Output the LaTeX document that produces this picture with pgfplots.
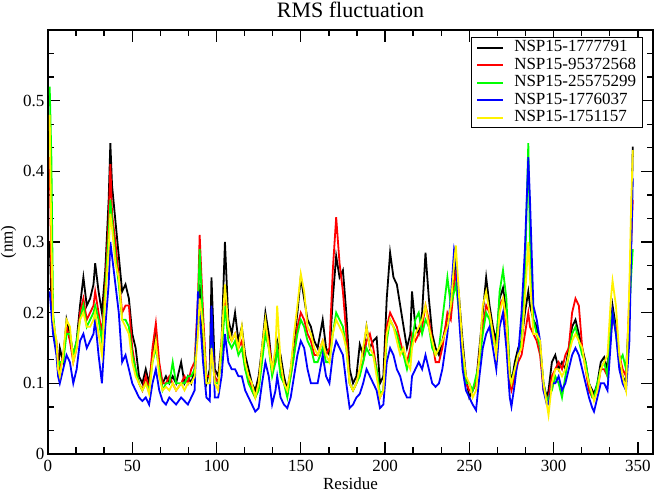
\documentclass[border=0pt]{standalone}
\usepackage{fontspec}
\setmainfont{Liberation Serif}
\usepackage{pgfplots}
\usepackage{pgfplotstable}
\pgfplotsset{compat=1.18}

% RMSF per residue (nm)
% B = 1777791, R = 95372568, G = 25575299, U = 1776037, Y = 1751157
\pgfplotstableread{
r   B     R     G     U     Y
1   0.30  0.42  0.52  0.23  0.48
2   0.22  0.25  0.42  0.20  0.30
3   0.19  0.18  0.20  0.17  0.19
5   0.15  0.16  0.15  0.14  0.16
6   0.12  0.13  0.12  0.11  0.12
7   0.15  0.12  0.13  0.10  0.11
9   0.13  0.14  0.13  0.12  0.14
11  0.19  0.18  0.17  0.14  0.19
13  0.17  0.16  0.17  0.13  0.18
15  0.14  0.13  0.14  0.10  0.13
17  0.16  0.15  0.16  0.12  0.15
19  0.21  0.20  0.19  0.16  0.19
21  0.25  0.22  0.21  0.17  0.20
23  0.21  0.19  0.18  0.15  0.18
25  0.22  0.20  0.19  0.16  0.18
27  0.24  0.21  0.20  0.17  0.19
28  0.27  0.23  0.21  0.19  0.20
30  0.23  0.20  0.19  0.14  0.17
32  0.20  0.17  0.16  0.10  0.14
34  0.26  0.24  0.23  0.18  0.22
36  0.36  0.33  0.31  0.24  0.29
37  0.44  0.41  0.36  0.30  0.34
38  0.38  0.34  0.33  0.28  0.32
40  0.33  0.30  0.28  0.24  0.27
42  0.28  0.25  0.24  0.20  0.25
44  0.23  0.20  0.19  0.13  0.19
46  0.24  0.21  0.19  0.14  0.18
48  0.22  0.21  0.18  0.12  0.17
50  0.17  0.15  0.14  0.10  0.13
52  0.15  0.12  0.12  0.09  0.11
54  0.11  0.10  0.10  0.08  0.10
56  0.10  0.09  0.09  0.075 0.09
58  0.12  0.11  0.10  0.08  0.10
60  0.10  0.09  0.09  0.07  0.085
62  0.14  0.15  0.13  0.10  0.13
64  0.17  0.185 0.15  0.12  0.16
66  0.12  0.13  0.12  0.09  0.11
68  0.10  0.10  0.09  0.075 0.09
70  0.11  0.10  0.10  0.07  0.095
72  0.10  0.11  0.10  0.08  0.09
74  0.11  0.10  0.13  0.075 0.10
76  0.10  0.09  0.10  0.07  0.09
79  0.13  0.10  0.10  0.08  0.10
81  0.10  0.11  0.10  0.075 0.09
83  0.11  0.10  0.11  0.07  0.10
85  0.10  0.12  0.11  0.08  0.10
87  0.12  0.13  0.12  0.09  0.11
89  0.18  0.22  0.20  0.23  0.17
90  0.24  0.31  0.29  0.20  0.22
92  0.16  0.20  0.18  0.13  0.18
94  0.10  0.11  0.10  0.08  0.10
96  0.12  0.11  0.10  0.075 0.10
97  0.25  0.17  0.16  0.21  0.15
99  0.12  0.11  0.10  0.08  0.10
101 0.11  0.10  0.10  0.08  0.09
103 0.16  0.15  0.14  0.11  0.16
105 0.30  0.22  0.21  0.17  0.24
107 0.19  0.17  0.16  0.13  0.18
109 0.17  0.16  0.15  0.12  0.16
111 0.20  0.17  0.16  0.12  0.17
113 0.16  0.15  0.14  0.11  0.15
115 0.18  0.16  0.15  0.11  0.18
117 0.14  0.12  0.12  0.09  0.13
119 0.12  0.11  0.10  0.08  0.11
121 0.10  0.09  0.09  0.07  0.10
123 0.09  0.08  0.08  0.06  0.08
125 0.11  0.10  0.09  0.065 0.10
127 0.15  0.14  0.13  0.10  0.15
129 0.20  0.18  0.17  0.13  0.19
131 0.17  0.16  0.15  0.11  0.15
133 0.12  0.12  0.11  0.07  0.12
135 0.14  0.13  0.13  0.09  0.15
136 0.16  0.15  0.15  0.11  0.21
138 0.14  0.12  0.11  0.08  0.13
140 0.11  0.10  0.10  0.07  0.10
142 0.09  0.09  0.08  0.065 0.09
144 0.12  0.11  0.11  0.08  0.12
146 0.16  0.14  0.14  0.11  0.17
148 0.20  0.18  0.17  0.14  0.21
150 0.25  0.20  0.19  0.16  0.255
152 0.22  0.19  0.18  0.15  0.23
154 0.19  0.17  0.16  0.12  0.18
156 0.18  0.16  0.15  0.10  0.17
158 0.16  0.14  0.13  0.10  0.15
160 0.15  0.14  0.13  0.10  0.14
163 0.19  0.16  0.15  0.14  0.16
165 0.15  0.14  0.13  0.11  0.14
167 0.14  0.15  0.13  0.10  0.13
169 0.22  0.26  0.17  0.14  0.17
171 0.28  0.335 0.20  0.16  0.19
173 0.25  0.27  0.19  0.15  0.18
175 0.26  0.23  0.18  0.14  0.17
177 0.20  0.17  0.15  0.10  0.15
179 0.12  0.10  0.10  0.065 0.10
181 0.10  0.09  0.09  0.07  0.09
183 0.11  0.10  0.10  0.08  0.10
185 0.155 0.12  0.11  0.085 0.12
187 0.14  0.13  0.13  0.10  0.15
189 0.18  0.16  0.15  0.12  0.18
191 0.15  0.17  0.14  0.11  0.15
193 0.16  0.15  0.14  0.10  0.14
195 0.165 0.12  0.12  0.09  0.11
197 0.10  0.08  0.085 0.065 0.08
199 0.11  0.09  0.09  0.07  0.09
201 0.22  0.18  0.16  0.13  0.17
203 0.285 0.20  0.19  0.15  0.19
205 0.25  0.19  0.18  0.14  0.18
207 0.24  0.18  0.17  0.12  0.16
209 0.21  0.16  0.15  0.11  0.14
211 0.18  0.14  0.14  0.09  0.15
213 0.15  0.13  0.12  0.08  0.13
215 0.17  0.15  0.14  0.08  0.12
216 0.23  0.17  0.16  0.11  0.15
218 0.18  0.16  0.19  0.12  0.17
220 0.17  0.17  0.20  0.13  0.18
222 0.20  0.18  0.17  0.12  0.19
224 0.285 0.21  0.19  0.14  0.21
226 0.22  0.19  0.18  0.12  0.18
228 0.17  0.16  0.15  0.10  0.16
230 0.15  0.13  0.14  0.095 0.14
232 0.14  0.13  0.15  0.10  0.15
234 0.16  0.15  0.19  0.12  0.16
237 0.19  0.20  0.25  0.17  0.18
239 0.20  0.19  0.21  0.22  0.21
241 0.25  0.24  0.23  0.29  0.27
242 0.27  0.26  0.24  0.28  0.295
244 0.22  0.20  0.20  0.19  0.22
246 0.16  0.14  0.14  0.12  0.15
248 0.11  0.10  0.10  0.09  0.11
250 0.08  0.09  0.10  0.08  0.10
252 0.09  0.09  0.09  0.07  0.08
254 0.10  0.10  0.11  0.062 0.09
256 0.15  0.14  0.13  0.11  0.14
258 0.20  0.18  0.17  0.15  0.21
260 0.25  0.21  0.20  0.17  0.23
262 0.21  0.20  0.19  0.18  0.20
264 0.18  0.17  0.16  0.15  0.17
266 0.16  0.15  0.15  0.12  0.14
268 0.22  0.21  0.23  0.18  0.20
270 0.235 0.22  0.26  0.20  0.22
272 0.20  0.18  0.22  0.15  0.19
274 0.12  0.10  0.11  0.08  0.11
275 0.10  0.09  0.10  0.067 0.10
277 0.13  0.11  0.12  0.10  0.12
279 0.15  0.13  0.14  0.14  0.14
281 0.16  0.14  0.16  0.20  0.15
283 0.20  0.17  0.25  0.29  0.22
285 0.23  0.20  0.44  0.42  0.30
286 0.21  0.18  0.30  0.36  0.25
288 0.19  0.17  0.19  0.21  0.17
290 0.18  0.16  0.17  0.19  0.17
292 0.15  0.14  0.15  0.16  0.16
294 0.10  0.09  0.10  0.09  0.10
296 0.08  0.08  0.075 0.07  0.07
297 0.09  0.08  0.08  0.07  0.055
299 0.13  0.11  0.09  0.10  0.10
301 0.14  0.12  0.11  0.10  0.12
303 0.12  0.13  0.10  0.11  0.12
305 0.13  0.12  0.08  0.09  0.11
307 0.12  0.14  0.11  0.10  0.12
309 0.15  0.15  0.14  0.12  0.14
311 0.18  0.20  0.17  0.14  0.16
313 0.19  0.22  0.18  0.15  0.17
315 0.17  0.21  0.16  0.14  0.16
317 0.15  0.15  0.14  0.12  0.15
319 0.13  0.12  0.13  0.10  0.12
321 0.10  0.09  0.10  0.08  0.10
323 0.09  0.08  0.08  0.065 0.085
324 0.085 0.08  0.08  0.06  0.075
326 0.10  0.09  0.10  0.08  0.09
328 0.13  0.12  0.12  0.10  0.12
330 0.137 0.12  0.13  0.10  0.13
332 0.12  0.11  0.11  0.09  0.14
334 0.18  0.17  0.19  0.16  0.22
335 0.21  0.19  0.20  0.20  0.245
337 0.18  0.18  0.17  0.17  0.21
339 0.13  0.14  0.13  0.12  0.14
341 0.11  0.12  0.14  0.10  0.11
343 0.10  0.11  0.12  0.09  0.09
345 0.19  0.22  0.20  0.16  0.24
346 0.30  0.30  0.25  0.28  0.35
347 0.435 0.36  0.29  0.39  0.43
}\rmsf

\begin{document}
\begin{tikzpicture}
\useasboundingbox (-48pt,-38pt) rectangle (609pt,454pt);
\begin{axis}[
    at={(0pt,0pt)}, anchor=south west,
    scale only axis,
    width=605pt, height=424pt,
    xmin=0, xmax=359,
    ymin=0, ymax=0.6,
    xtick={0,50,...,350},
    ytick={0,0.1,0.2,0.3,0.4,0.5,0.6},
    yticklabels={0,0.1,0.2,0.3,0.4,0.5,},
    minor tick num=2,
    tick align=inside,
    major tick length=12pt,
    minor tick length=6.5pt,
    every tick/.style={black,line width=1.4pt},
    axis line style={line width=1.6pt},
    /pgf/number format/assume math mode=true,
    tick label style={font=\fontsize{17}{20}\selectfont},
    xticklabel style={yshift=-3pt},
    clip=false,
    legend cell align=left,
    legend style={at={(0.983,0.983)}, anchor=north east,
        draw=black, line width=1.2pt,
        font=\fontsize{17}{20}\selectfont,
        inner xsep=5pt, inner ysep=1pt,
        /tikz/every odd column/.append style={column sep=9pt},
        nodes={inner sep=1pt, text height=12pt, text depth=3.5pt}},
    legend image code/.code={\draw[#1,line width=2pt] (0pt,0pt) -- (26pt,0pt);},
    every axis plot/.append style={line width=1.8pt},
]
\addplot[black]  table[x=r,y=B]{\rmsf};
\addplot[red]    table[x=r,y=R]{\rmsf};
\addplot[green]  table[x=r,y=G]{\rmsf};
\addplot[blue]   table[x=r,y=U]{\rmsf};
\addplot[yellow] table[x=r,y=Y]{\rmsf};
\legend{NSP15-1777791,NSP15-95372568,NSP15-25575299,NSP15-1776037,NSP15-1751157}
\node[anchor=base,font=\fontsize{22}{26}\selectfont] at ([yshift=12pt]rel axis cs:0.5,1) {RMS fluctuation};
\node[anchor=base,font=\fontsize{17}{20}\selectfont] at ([yshift=-35.5pt]rel axis cs:0.5,0) {Residue};
\node[rotate=90,font=\fontsize{17}{20}\selectfont] at ([xshift=-39.5pt]rel axis cs:0,0.5) {(nm)};
\end{axis}
\end{tikzpicture}
\end{document}
